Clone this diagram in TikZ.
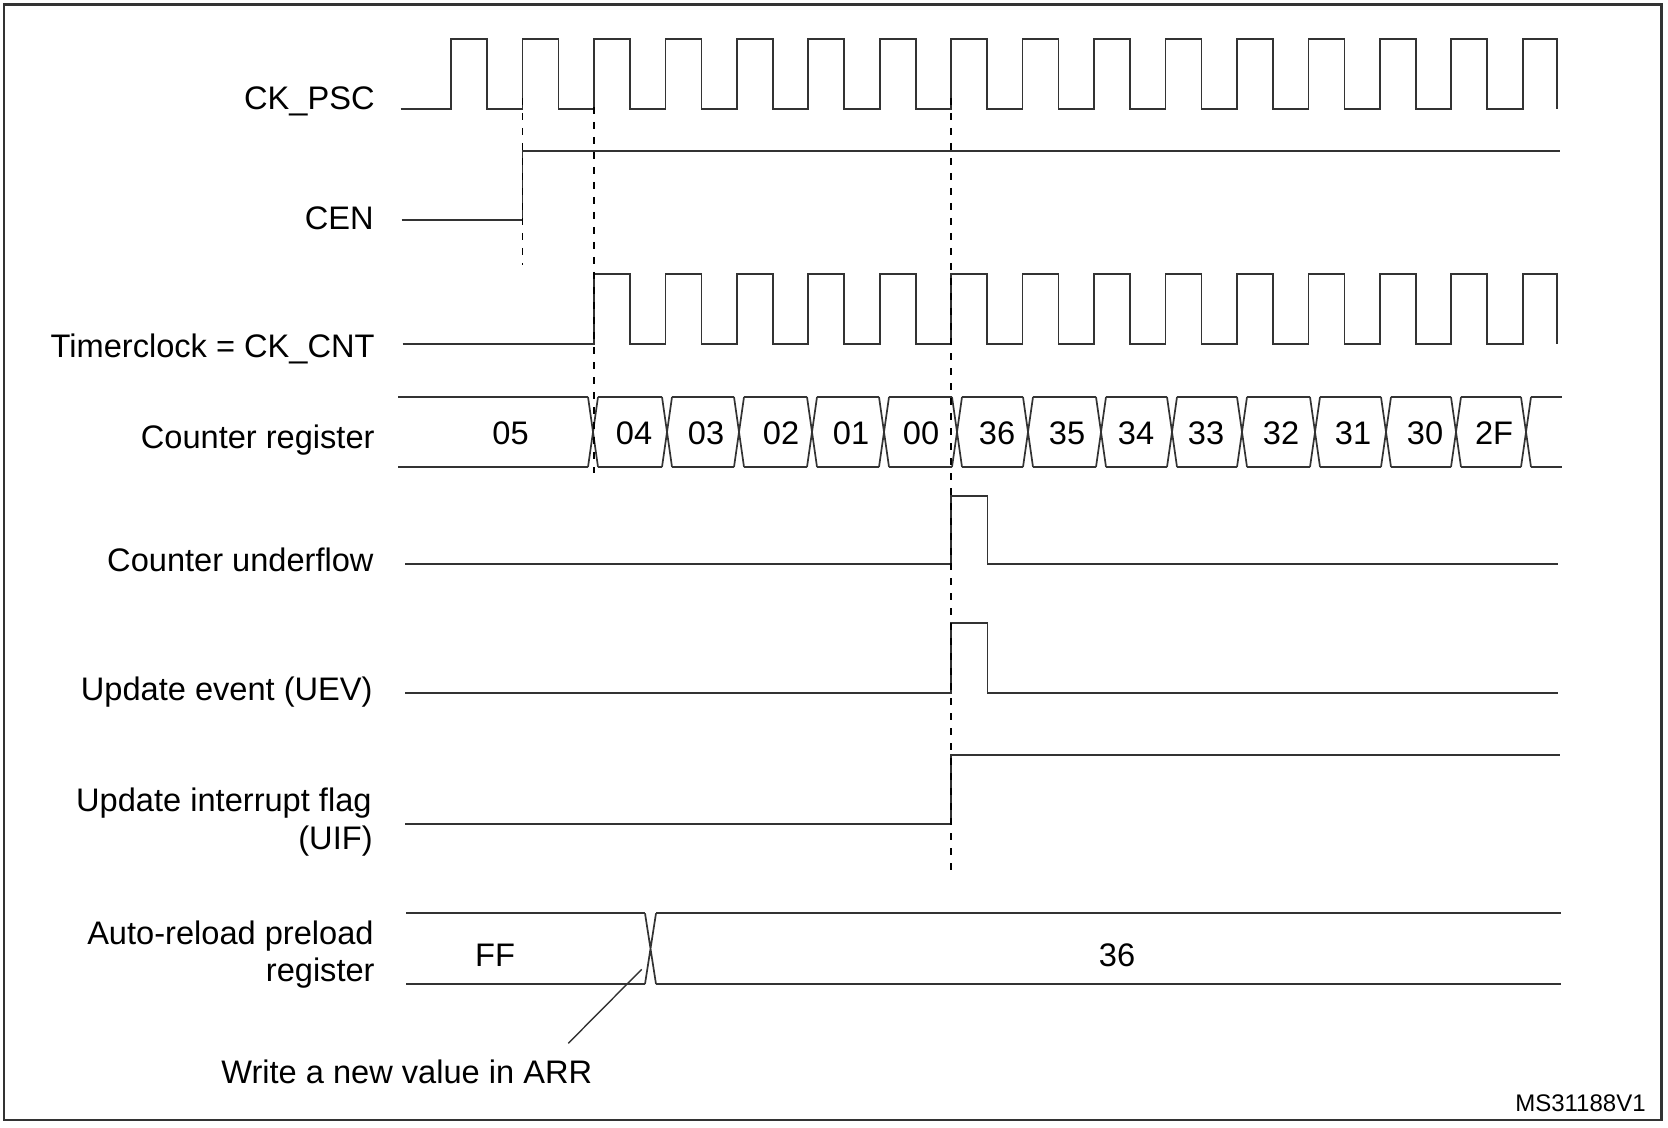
\documentclass[tikz,border=0pt]{standalone}
\usepackage{fontspec}
\setmainfont{Liberation Sans}
\begin{document}
\begin{tikzpicture}[x=0.5pt,y=-0.5pt,
  sig/.style={line width=0.85pt,draw=black!80,line join=miter},
  guide/.style={line width=0.8pt,draw=black,dash pattern=on 3.5pt off 4pt},
  lbl/.style={inner sep=0pt,anchor=base east,font=\fontsize{16.3}{18.8}\selectfont},
  val/.style={inner sep=0pt,anchor=base,font=\fontsize{16.3}{18.8}\selectfont},
  frame/.style={line width=1.3pt,draw=black!80}]
\useasboundingbox (0,0) rectangle (1668,1128);
\draw[frame] (4,4.7) rectangle (1661.5,1120);

% labels
\node[lbl] (lpsc) at (375,109.3) {CK\_PSC};
\node[lbl] (lcen) at (374,230) {CEN};
\node[lbl] (lcnt) at (375,357.4) {Timerclock = CK\_CNT};
\node[lbl] (lreg) at (375,448.3) {Counter register};
\node[lbl] (lunf) at (374,571.7) {Counter underflow};
\node[lbl] (luev) at (373,700) {Update event (UEV)};
\node[lbl] (luif1) at (372,811.7) {Update interrupt flag};
\node[lbl] (luif2) at (373,849) {(UIF)};
\node[lbl] (larr1) at (374,944) {Auto-reload preload};
\node[lbl] (larr2) at (375,981.7) {register};

% CK_PSC
\draw[sig] (400.7,109.3)
  \foreach \n in {0,...,14}{ -- ({451+71.45*\n},109.3) -- ({451+71.45*\n},39.3) -- ({487+71.45*\n},39.3) -- ({487+71.45*\n},109.3)}
  -- (1522.75,109.3) -- (1522.75,39.3) -- (1557.3,39.3) -- (1557.3,109.3);

% CEN
\draw[sig] (401.7,220) -- (522.45,220) -- (522.45,150.7) -- (1560,150.7);

% Timerclock
\draw[sig] (402.7,344)
  \foreach \n in {2,...,14}{ -- ({451+71.45*\n},344) -- ({451+71.45*\n},274) -- ({487+71.45*\n},274) -- ({487+71.45*\n},344)}
  -- (1522.75,344) -- (1522.75,274) -- (1557.3,274) -- (1557.3,344);

% Counter register bus
\def\ctop{397}\def\cbot{467}
\draw[sig] (398,\ctop) -- (588,\ctop) (398,\cbot) -- (588,\cbot);
\foreach \a/\b in {593/667,667/739,739/812,812/884,884/957,957/1028,1028/1101,1101/1172,1172/1242,1242/1315,1315/1386,1386/1456,1456/1526}{
  \draw[sig] (\a+5,\ctop) -- (\b-5,\ctop) (\a+5,\cbot) -- (\b-5,\cbot);
}
\foreach \c in {593,667,739,812,884,957,1028,1101,1172,1242,1315,1386,1456,1526}{
  \draw[sig] (\c-5,\ctop) -- (\c+5,\cbot) (\c-5,\cbot) -- (\c+5,\ctop);
}
\draw[sig] (1531,\ctop) -- (1561.7,\ctop) (1531,\cbot) -- (1561.7,\cbot);
\foreach \x/\t/\nm in {510.6/05/v0,634/04/v1,706/03/v2,781/02/v3,851/01/v4,921/00/v5,997/36/v6,1067/35/v7,1136/34/v8,1206/33/v9,1281/32/v10,1353/31/v11,1425/30/v12,1494/2F/v13}{
  \node[val] (\nm) at (\x,444) {\t};
}

% Counter underflow
\draw[sig] (405,564) -- (951.15,564) -- (951.15,496) -- (987.5,496) -- (987.5,564) -- (1558,564);
% UEV
\draw[sig] (405,693) -- (951.15,693) -- (951.15,623.3) -- (987.5,623.3) -- (987.5,693) -- (1558,693);
% UIF
\draw[sig] (405,824.3) -- (951.15,824.3) -- (951.15,755) -- (1560,755);

% Auto-reload preload register
\draw[sig] (406,913.3) -- (645,913.3) (406,984) -- (645,984);
\draw[sig] (645,913.3) -- (656,984) (645,984) -- (656,913.3);
\draw[sig] (656,913.3) -- (1561,913.3) (656,984) -- (1561,984);
\node[val] (vff) at (495,966.7) {FF};
\node[val] (v36) at (1117,966) {36};

% dashed guides
\draw[guide] (522.45,98) -- (522.45,265);
\draw[guide] (593.9,107) -- (593.9,473);
\draw[guide] (951.15,98) -- (951.15,877);

% annotation
\node[inner sep=0pt,anchor=base west,font=\fontsize{16.3}{18.8}\selectfont] (wr) at (221,1083.3) {Write a new value in ARR};
\coordinate (wa) at (568.3,1043.3);
\coordinate (wb) at (641.7,969.3);
\draw[line width=0.7pt,draw=black!80] (wa) -- (wb);

\node[inner sep=0pt,anchor=base east,font=\fontsize{12}{14}\selectfont] (ms) at (1646,1111.7) {MS31188V1};
\end{tikzpicture}
\end{document}
